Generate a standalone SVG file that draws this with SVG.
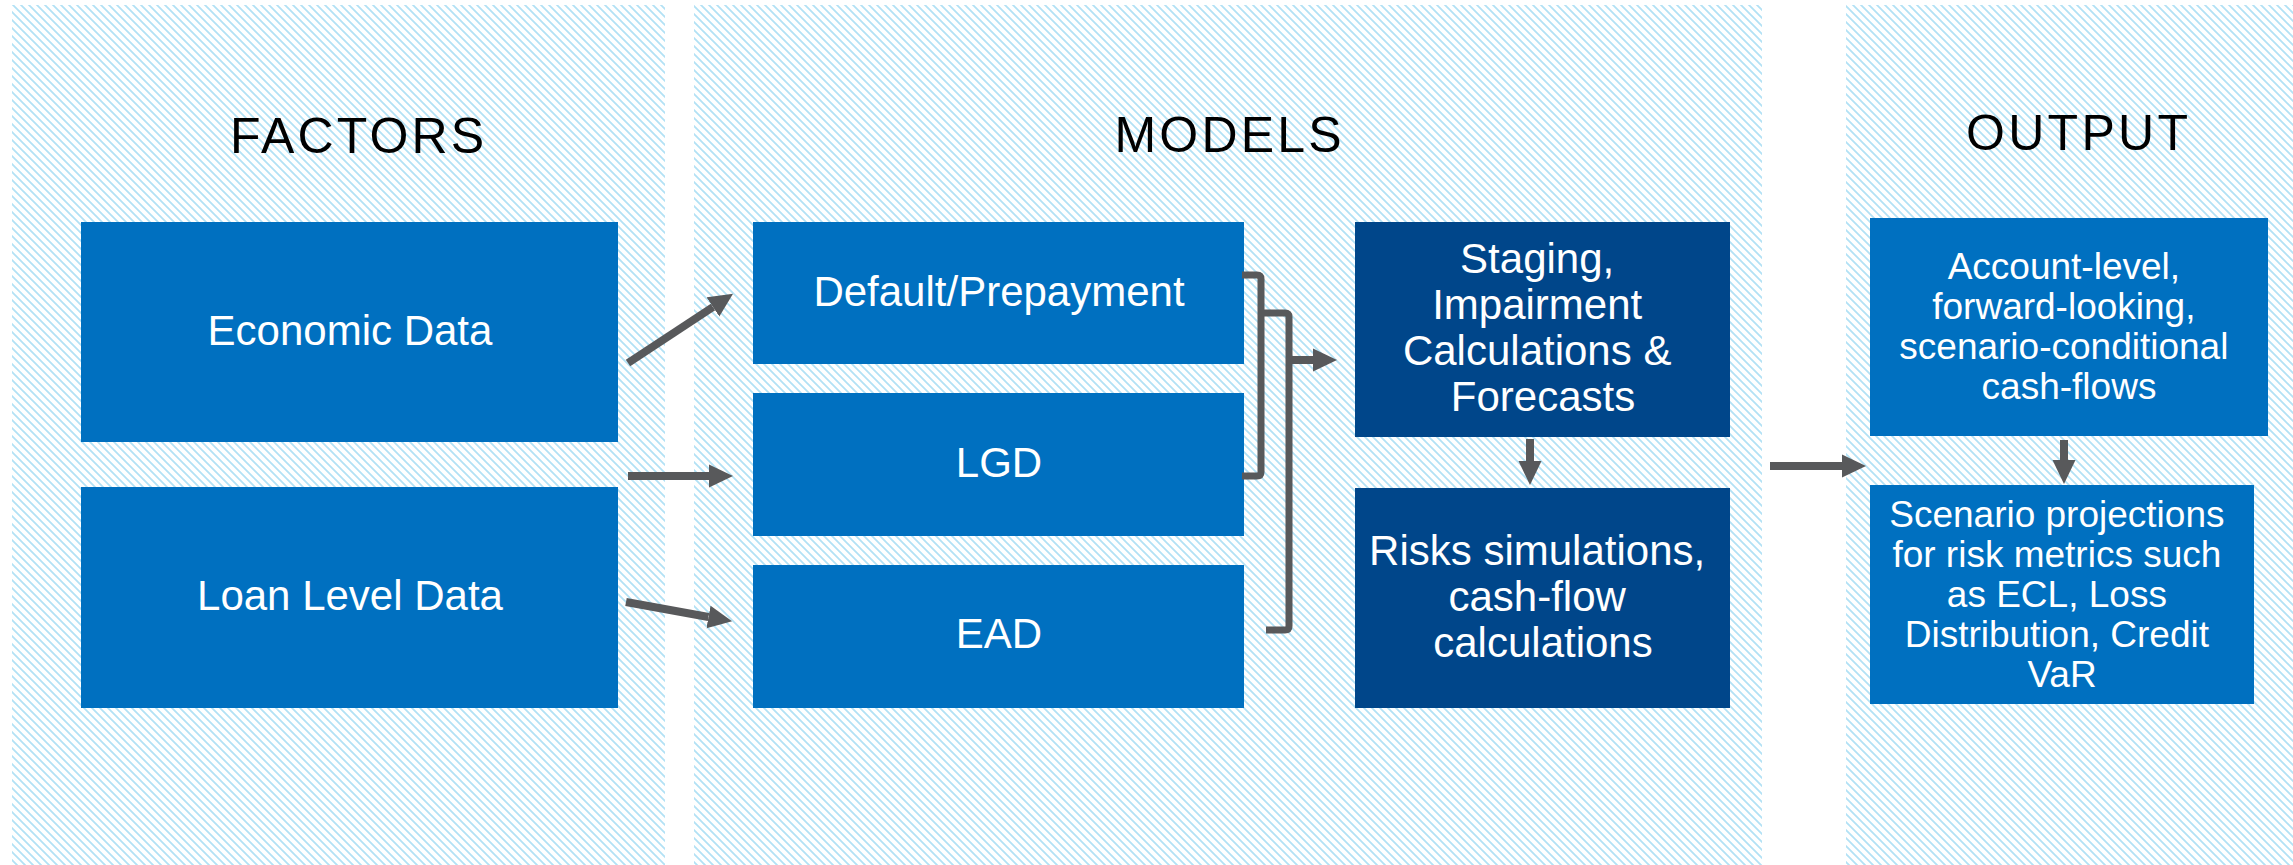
<svg xmlns="http://www.w3.org/2000/svg" width="2293" height="865" viewBox="0 0 2293 865">
  <defs>
    <pattern id="hatch" width="8" height="8" patternUnits="userSpaceOnUse">
      <path d="M-2,-2 L10,10 M-2,6 L2,10 M6,-2 L10,2" stroke="#B2E1F5" stroke-width="1.8"/>
    </pattern>
    <marker id="head" markerUnits="userSpaceOnUse" viewBox="0 -12 26 24" markerWidth="26" markerHeight="24" refX="0" refY="0" orient="auto">
      <path d="M0,-11.5 L24,0 L0,11.5 Z" fill="#58595B"/>
    </marker>
    <style>
      .panel { fill: url(#hatch); }
      .title { font-family: "Liberation Sans", Arial, sans-serif; font-size: 50px; fill: #000; text-anchor: middle; }
      .box { fill: #0070C0; }
      .dark { fill: #00468A; }
      .lbl { font-family: "Liberation Sans", Arial, sans-serif; font-size: 42px; fill: #fff; text-anchor: middle; }
      .lbl-s { font-family: "Liberation Sans", Arial, sans-serif; font-size: 37px; fill: #fff; text-anchor: middle; }
      .arrow { stroke: #58595B; stroke-width: 8; fill: none; marker-end: url(#head); }
      .bracket { stroke: #58595B; stroke-width: 7; fill: none; }
    </style>
  </defs>

  <rect width="2293" height="865" fill="#fff"/>

  <!-- column backgrounds -->
  <g id="columns">
    <rect class="panel" x="12" y="5" width="653" height="860"/>
    <rect class="panel" x="694" y="5" width="1068" height="860"/>
    <rect class="panel" x="1846" y="5" width="447" height="860"/>
    <text class="title" x="357" y="153" textLength="254">FACTORS</text>
    <text class="title" x="1228" y="152" textLength="227">MODELS</text>
    <text class="title" x="2077" y="150" textLength="222">OUTPUT</text>
  </g>

  <!-- factors -->
  <g id="economic-data">
    <rect class="box" x="81" y="222" width="537" height="220"/>
    <text class="lbl" x="350" y="345">Economic Data</text>
  </g>
  <g id="loan-level-data">
    <rect class="box" x="81" y="487" width="537" height="221"/>
    <text class="lbl" x="350" y="610">Loan Level Data</text>
  </g>

  <!-- models -->
  <g id="default-prepayment">
    <rect class="box" x="753" y="222" width="491" height="142"/>
    <text class="lbl" x="999" y="306">Default/Prepayment</text>
  </g>
  <g id="lgd">
    <rect class="box" x="753" y="393" width="491" height="143"/>
    <text class="lbl" x="999" y="477">LGD</text>
  </g>
  <g id="ead">
    <rect class="box" x="753" y="565" width="491" height="143"/>
    <text class="lbl" x="999" y="648">EAD</text>
  </g>
  <g id="staging">
    <rect class="dark" x="1355" y="222" width="375" height="215"/>
    <text class="lbl" x="1543" y="273">Staging,
      <tspan x="1543" y="319">Impairment</tspan>
      <tspan x="1543" y="365">Calculations &amp;</tspan>
      <tspan x="1543" y="411">Forecasts</tspan>
    </text>
  </g>
  <g id="risk-simulations">
    <rect class="dark" x="1355" y="488" width="375" height="220"/>
    <text class="lbl" x="1543" y="565">Risks simulations,
      <tspan x="1543" y="611">cash-flow</tspan>
      <tspan x="1543" y="657">calculations</tspan>
    </text>
  </g>

  <!-- output -->
  <g id="cash-flows">
    <rect class="box" x="1870" y="218" width="398" height="218"/>
    <text class="lbl-s" x="2069" y="279">Account-level,
      <tspan x="2069" y="319">forward-looking,</tspan>
      <tspan x="2069" y="359">scenario-conditional</tspan>
      <tspan x="2069" y="399">cash-flows</tspan>
    </text>
  </g>
  <g id="risk-metrics">
    <rect class="box" x="1870" y="485" width="384" height="219"/>
    <text class="lbl-s" x="2062" y="527">Scenario projections
      <tspan x="2062" y="567">for risk metrics such</tspan>
      <tspan x="2062" y="607">as ECL, Loss</tspan>
      <tspan x="2062" y="647">Distribution, Credit</tspan>
      <tspan x="2062" y="687">VaR</tspan>
    </text>
  </g>

  <!-- connectors -->
  <g id="connectors">
    <path class="arrow" d="M628,363 L713,307"/>
    <path class="arrow" d="M628,476 L709,476"/>
    <path class="arrow" d="M626,602 L708.5,617"/>
    <path class="bracket" d="M1242,275 H1257 Q1261,275 1261,279 V472 Q1261,476 1257,476 H1242"/>
    <path class="bracket" d="M1264,313 H1285 Q1289,313 1289,317 V626 Q1289,630 1285,630 H1266"/>
    <path class="arrow" d="M1289,360 H1313"/>
    <path class="arrow" d="M1530,439 V461"/>
    <path class="arrow" d="M1770,466 H1842"/>
    <path class="arrow" d="M2064,440 V460"/>
  </g>
</svg>
